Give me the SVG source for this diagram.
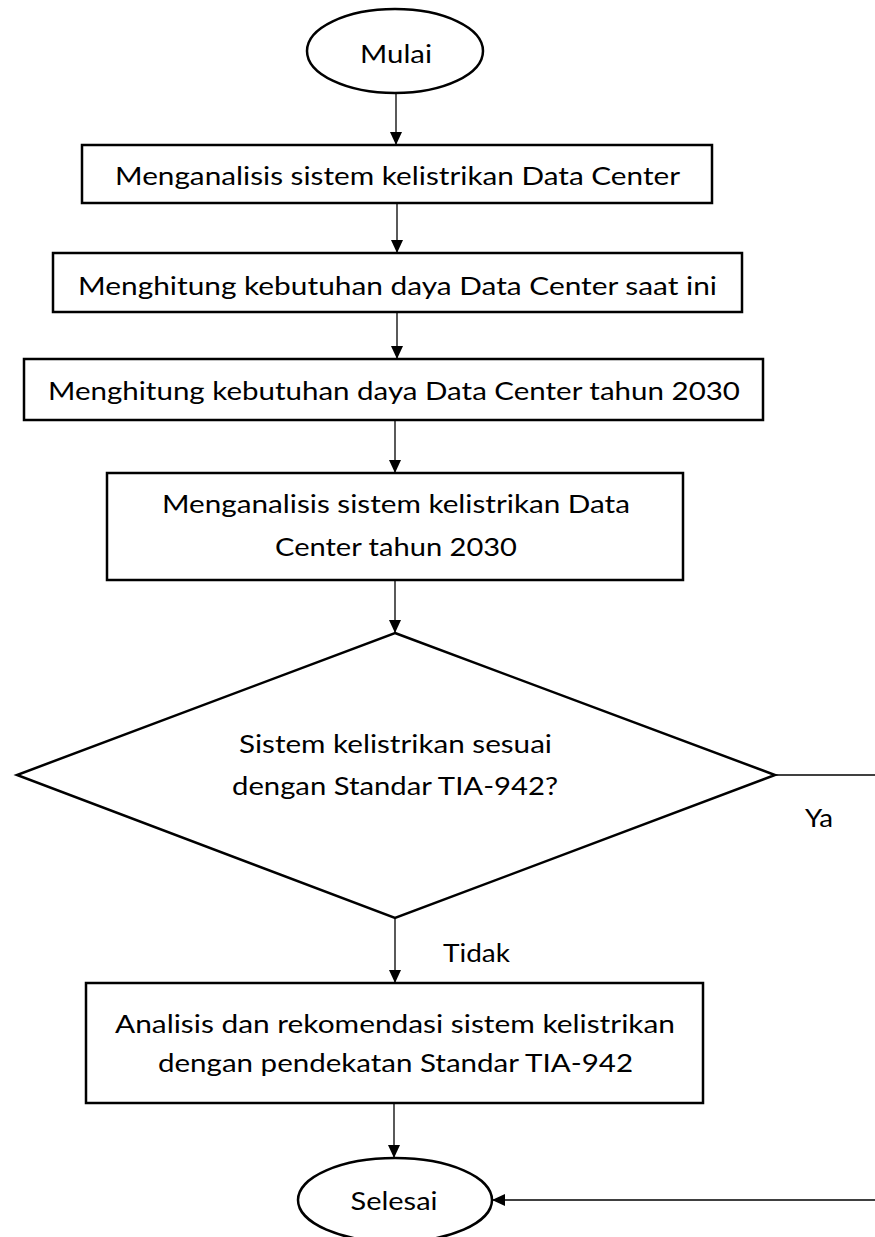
<svg xmlns="http://www.w3.org/2000/svg" width="875" height="1237" viewBox="0 0 875 1237">
<style>
.box{fill:#fff;stroke:#000;stroke-width:2.5}
.t{font-family:Lato,"Open Sans","Liberation Sans",sans-serif;font-size:25px;fill:#000;text-anchor:middle}
.c{fill:none;stroke:#000;stroke-width:1.3}
</style>
<defs>
<marker id="ah" markerUnits="userSpaceOnUse" markerWidth="14" markerHeight="12" refX="13" refY="6" orient="auto">
<path d="M0,0 L13,6 L0,12 Z" fill="#000"/>
</marker>
</defs>
<rect width="875" height="1237" fill="#fff"/>
<g id="connectors">
<line class="c" x1="396" y1="93" x2="396" y2="145" marker-end="url(#ah)"/>
<line class="c" x1="397" y1="203" x2="397" y2="253" marker-end="url(#ah)"/>
<line class="c" x1="397" y1="312" x2="397" y2="359" marker-end="url(#ah)"/>
<line class="c" x1="395" y1="420" x2="395" y2="473" marker-end="url(#ah)"/>
<line class="c" x1="395" y1="580" x2="395" y2="633" marker-end="url(#ah)"/>
<line class="c" x1="395" y1="918" x2="395" y2="983" marker-end="url(#ah)"/>
<line class="c" x1="394" y1="1103" x2="394" y2="1158" marker-end="url(#ah)"/>
<line class="c" x1="775" y1="775" x2="875" y2="775"/>
<line class="c" x1="875" y1="1200" x2="492" y2="1200" marker-end="url(#ah)"/>
<text class="t" x="819" y="827" textLength="28" lengthAdjust="spacingAndGlyphs">Ya</text>
<text class="t" x="476.5" y="962" textLength="67" lengthAdjust="spacingAndGlyphs">Tidak</text>
</g>
<g id="mulai">
<ellipse class="box" cx="395" cy="51" rx="88" ry="42"/>
<text class="t" x="396" y="63" textLength="72" lengthAdjust="spacingAndGlyphs">Mulai</text>
</g>
<g id="step1">
<rect class="box" x="82" y="145" width="630" height="58"/>
<text class="t" x="397.5" y="185" textLength="565" lengthAdjust="spacingAndGlyphs">Menganalisis sistem kelistrikan Data Center</text>
</g>
<g id="step2">
<rect class="box" x="53" y="253" width="689" height="59"/>
<text class="t" x="397.5" y="295" textLength="639" lengthAdjust="spacingAndGlyphs">Menghitung kebutuhan daya Data Center saat ini</text>
</g>
<g id="step3">
<rect class="box" x="24" y="359" width="739" height="61"/>
<text class="t" x="394" y="400" textLength="692" lengthAdjust="spacingAndGlyphs">Menghitung kebutuhan daya Data Center tahun 2030</text>
</g>
<g id="step4">
<rect class="box" x="107" y="473" width="576" height="107"/>
<text class="t" x="396" y="513" textLength="468" lengthAdjust="spacingAndGlyphs">Menganalisis sistem kelistrikan Data</text>
<text class="t" x="396" y="556" textLength="242" lengthAdjust="spacingAndGlyphs">Center tahun 2030</text>
</g>
<g id="decision">
<polygon class="box" points="395,633 775,775 395,918 17,775"/>
<text class="t" x="395.5" y="753" textLength="313" lengthAdjust="spacingAndGlyphs">Sistem kelistrikan sesuai</text>
<text class="t" x="395" y="795" textLength="326" lengthAdjust="spacingAndGlyphs">dengan Standar TIA-942?</text>
</g>
<g id="step5">
<rect class="box" x="86" y="983" width="617" height="120"/>
<text class="t" x="395" y="1033" textLength="560" lengthAdjust="spacingAndGlyphs">Analisis dan rekomendasi sistem kelistrikan</text>
<text class="t" x="395.5" y="1072" textLength="475" lengthAdjust="spacingAndGlyphs">dengan pendekatan Standar TIA-942</text>
</g>
<g id="selesai">
<ellipse class="box" cx="395" cy="1200" rx="97" ry="42"/>
<text class="t" x="394" y="1210" textLength="87" lengthAdjust="spacingAndGlyphs">Selesai</text>
</g>
</svg>
